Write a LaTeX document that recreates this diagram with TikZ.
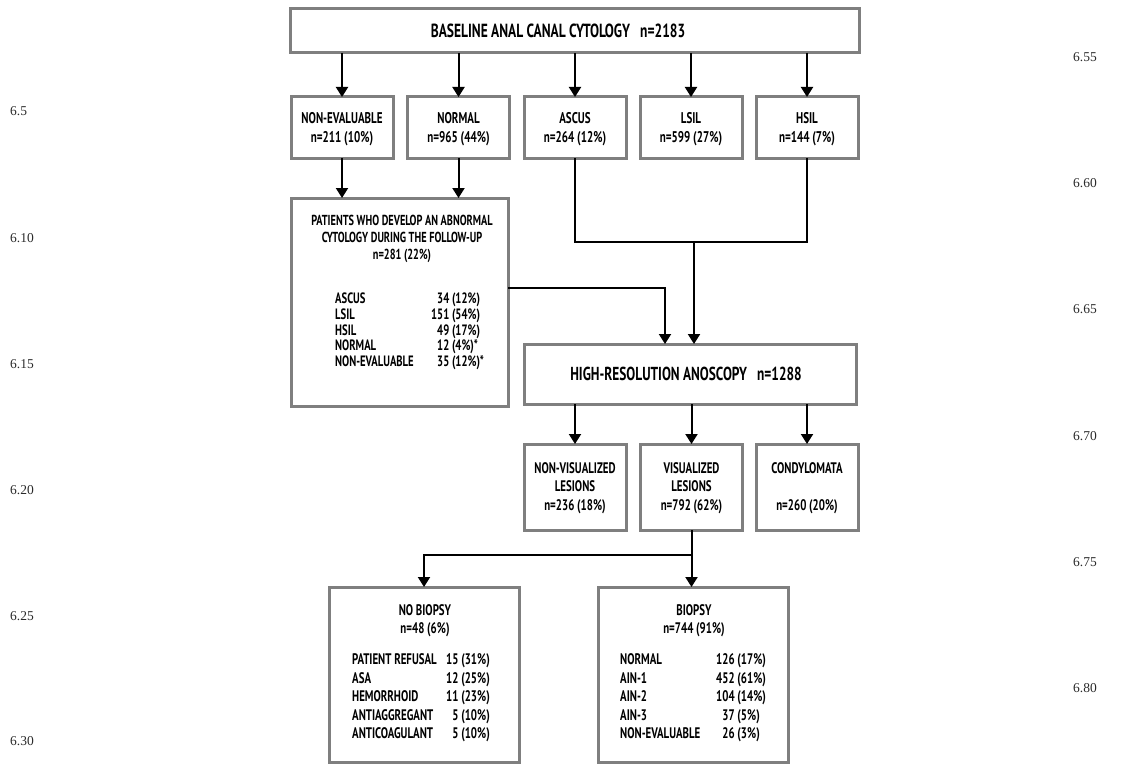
\documentclass[tikz,border=0pt]{standalone}
\usepackage{fontspec}
\setmainfont{Liberation Serif}
\newfontfamily\dinf{PT Sans}[FakeStretch=0.71]
\usetikzlibrary{arrows.meta}
\definecolor{boxgray}{HTML}{7F7F7F}
\definecolor{sidegray}{HTML}{2A2A2A}
\tikzset{
 box/.style={draw=boxgray, line width=3pt, fill=white, rectangle, inner sep=0pt, outer sep=0pt},
 conn/.style={line width=2pt, black},
 arr/.style={conn, -{Triangle[width=12pt,length=10pt]}},
 tbig/.style={font=\dinf\bfseries\fontsize{19}{22}\selectfont, inner sep=0pt},
 thra/.style={font=\dinf\bfseries\fontsize{18.8}{22}\selectfont, inner sep=0pt},
 tmid/.style={font=\dinf\bfseries\fontsize{15.5}{18.5}\selectfont, align=center, inner sep=0pt},
 tsmall/.style={font=\dinf\bfseries\fontsize{15.3}{18.5}\selectfont, align=center, inner sep=0pt},
 tpat/.style={font=\dinf\bfseries\fontsize{14.5}{17}\selectfont, align=center, inner sep=0pt},
 tabpat/.style={font=\dinf\bfseries\fontsize{15}{15.8}\selectfont, inner sep=0pt, anchor=base west},
 tabbio/.style={font=\dinf\bfseries\fontsize{15.3}{18.5}\selectfont, inner sep=0pt, anchor=base west},
 side/.style={font=\fontsize{13.5}{15}\selectfont, text=sidegray, inner sep=0pt, anchor=west},
}
\begin{document}
\begin{tikzpicture}[x=1pt,y=-1pt]
\useasboundingbox (0,0) rectangle (1121,765);
% side numbers
\node[side] (l1) at (10,111) {6.5};
\node[side] (l2) at (10,238) {6.10};
\node[side] (l3) at (10,364) {6.15};
\node[side] (l4) at (10,490) {6.20};
\node[side] (l5) at (10,616) {6.25};
\node[side] (l6) at (10,741) {6.30};
\node[side] (r1) at (1073,57) {6.55};
\node[side] (r2) at (1073,183) {6.60};
\node[side] (r3) at (1073,309) {6.65};
\node[side] (r4) at (1073,436) {6.70};
\node[side] (r5) at (1073,562) {6.75};
\node[side] (r6) at (1073,688) {6.80};
% boxes
\node[box, minimum width=569pt, minimum height=44pt] (top) at (574.5,31) {};
\node[tbig] (toptxt) at (558,31) {BASELINE ANAL CANAL CYTOLOGY\hspace{10pt}n=2183};
\foreach \n/\x in {ne/342, nor/458.5, asc/575, lsil/691, hsil/807}
  \node[box, minimum width=102pt, minimum height=61pt] (\n) at (\x,127.5) {};
\node[tmid] (netxt) at (342,129) {NON-EVALUABLE\\n=211 (10\%)};
\node[tmid] (nortxt) at (458.5,129) {NORMAL\\n=965 (44\%)};
\node[tmid] (asctxt) at (575,129) {ASCUS\\n=264 (12\%)};
\node[tmid] (lsiltxt) at (691,129) {LSIL\\n=599 (27\%)};
\node[tmid] (hsiltxt) at (807,129) {HSIL\\n=144 (7\%)};
\node[box, minimum width=217pt, minimum height=208pt] (pat) at (399.5,302) {};
\node[tpat] (pattxt) at (402,239) {PATIENTS WHO DEVELOP AN ABNORMAL\\CYTOLOGY DURING THE FOLLOW-UP\\n=281 (22\%)};
\node[tabpat] (pattab) at (335,303.5) {\begin{tabular}[t]{@{}p{96pt}@{}r@{\ }l@{}}
ASCUS & 34 & (12\%)\\
LSIL & 151 & (54\%)\\
HSIL & 49 & (17\%)\\
NORMAL & 12 & (4\%)*\\
NON-EVALUABLE & 35 & (12\%)*
\end{tabular}};
\node[box, minimum width=332pt, minimum height=60pt] (hra) at (690,374) {};
\node[thra] (hratxt) at (686,374) {HIGH-RESOLUTION ANOSCOPY\hspace{10pt}n=1288};
\foreach \n/\x in {nvl/575, vl/691.5, cond/807}
  \node[box, minimum width=102pt, minimum height=86pt] (\n) at (\x,487) {};
\node[tsmall] (nvltxt) at (575,488) {NON-VISUALIZED\\LESIONS\\n=236 (18\%)};
\node[tsmall] (vltxt) at (691.5,488) {VISUALIZED\\LESIONS\\n=792 (62\%)};
\node[tsmall] (condtxt) at (807,488) {CONDYLOMATA\\~\\n=260 (20\%)};
\node[box, minimum width=190pt, minimum height=175pt] (nb) at (424,674.5) {};
\node[tsmall] (nbtxt) at (425,620.5) {NO BIOPSY\\n=48 (6\%)};
\node[tabbio] (nbtab) at (352,664.5) {\begin{tabular}[t]{@{}p{94pt}@{}r@{\ }l@{}}
PATIENT REFUSAL & 15 & (31\%)\\
ASA & 12 & (25\%)\\
HEMORRHOID & 11 & (23\%)\\
ANTIAGGREGANT & 5 & (10\%)\\
ANTICOAGULANT & 5 & (10\%)
\end{tabular}};
\node[box, minimum width=190pt, minimum height=175pt] (bio) at (693,674.5) {};
\node[tsmall] (biotxt) at (694,620.5) {BIOPSY\\n=744 (91\%)};
\node[tabbio] (biotab) at (620,664.5) {\begin{tabular}[t]{@{}p{96pt}@{}r@{\ }l@{}}
NORMAL & 126 & (17\%)\\
AIN-1 & 452 & (61\%)\\
AIN-2 & 104 & (14\%)\\
AIN-3 & 37 & (5\%)\\
NON-EVALUABLE & 26 & (3\%)
\end{tabular}};
% connectors
\foreach \b in {ne,nor,asc,lsil,hsil}
  \draw[arr] (top.south -| \b) -- (\b.north);
\draw[arr] (ne.south) -- (ne.south |- pat.north);
\draw[arr] (nor.south) -- (nor.south |- pat.north);
\coordinate (j) at (694,242);
\draw[conn] (asc.south) |- (j) -| (hsil.south);
\draw[arr] (j) -- (j |- hra.north);
\coordinate (k) at (665,288);
\draw[arr] (k -| pat.east) -- (k) -- (k |- hra.north);
\foreach \b in {nvl,vl,cond}
  \draw[arr] (hra.south -| \b) -- (\b.north);
\coordinate (m) at (691.5,555);
\draw[conn] (vl.south) -- (m);
\draw[arr] (m) -| (nb.north);
\draw[arr] (m) -- (m |- bio.north);
\end{tikzpicture}
\end{document}
